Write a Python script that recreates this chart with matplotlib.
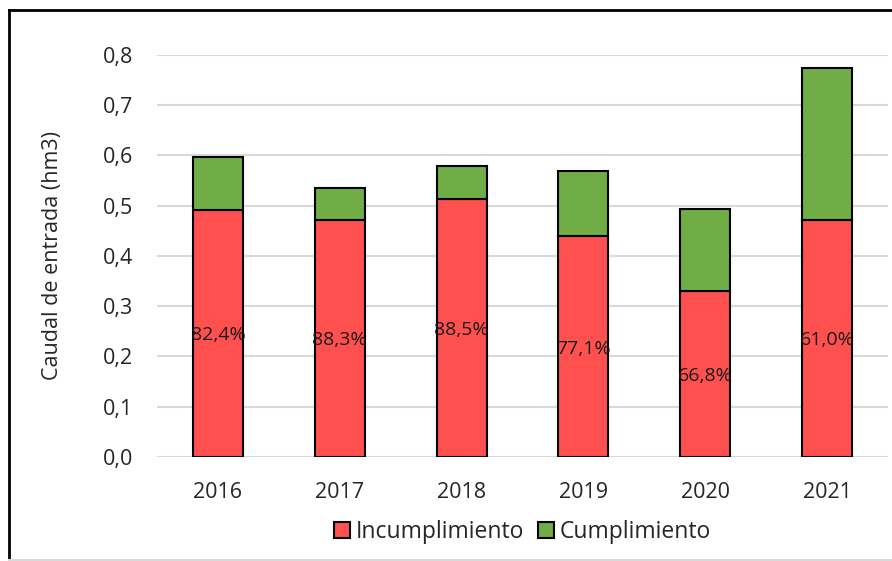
import numpy as np
import matplotlib.pyplot as plt
from matplotlib.lines import Line2D

plt.rcParams['font.family'] = ['Open Sans', 'DejaVu Sans']

# Data
years = ['2016', '2017', '2018', '2019', '2020', '2021']
incumplimiento = [0.492, 0.472, 0.513, 0.439, 0.330, 0.472]
cumplimiento = [0.105, 0.063, 0.066, 0.130, 0.164, 0.302]
pct_labels = ['82,4%', '88,3%', '88,5%', '77,1%', '66,8%', '61,0%']

fig = plt.figure(figsize=(8.92, 5.61), dpi=100)
ax = fig.add_axes([0.176, 0.1854, 0.8195, 0.7166])

x = np.arange(len(years))
w = 0.41
ax.bar(x, incumplimiento, w, color='#FF5050', edgecolor='black', linewidth=1.5,
       label='Incumplimiento', zorder=3)
ax.bar(x, cumplimiento, w, bottom=incumplimiento, color='#70AD47',
       edgecolor='black', linewidth=1.5, label='Cumplimiento', zorder=3)

for xi, r, lab in zip(x, incumplimiento, pct_labels):
    ax.text(xi, r / 2 - 0.004, lab, ha='center', va='center', fontsize=14,
            color='#1a1a1a', zorder=4)

ax.set_xlim(-0.5, 5.5)
ax.set_ylim(0, 0.8)
ax.set_yticks(np.arange(0, 0.81, 0.1))
ax.set_yticklabels([f'{v:.1f}'.replace('.', ',') for v in np.arange(0, 0.81, 0.1)])
ax.set_xticks(x)
ax.set_xticklabels(years)
ax.tick_params(axis='both', length=0, labelsize=15.5, colors='#262626')
ax.tick_params(axis='y', pad=17)
ax.tick_params(axis='x', pad=18)
ax.grid(axis='y', color='#D9D9D9', linewidth=1.5, zorder=0)
for s in ax.spines.values():
    s.set_visible(False)
ax.set_ylabel('Caudal de entrada (hm3)', fontsize=15.5, color='#262626', labelpad=29)

leg = ax.legend(loc='upper center', bbox_to_anchor=(0.5, -0.105), ncol=2,
                frameon=False, fontsize=16.5, handlelength=0.7, handleheight=0.7,
                handletextpad=0.25, columnspacing=0.6)
for t in leg.get_texts():
    t.set_color('#262626')

# outer frame
fig.add_artist(Line2D([9 / 892, 9 / 892], [0, 1 - 10 / 561], color='black', linewidth=2))
fig.add_artist(Line2D([9 / 892, 1], [1 - 10 / 561, 1 - 10 / 561], color='black', linewidth=2))
fig.add_artist(Line2D([9 / 892, 1], [1 / 561, 1 / 561], color='#D9D9D9', linewidth=1.5))

fig.savefig('out.png', dpi=100)
